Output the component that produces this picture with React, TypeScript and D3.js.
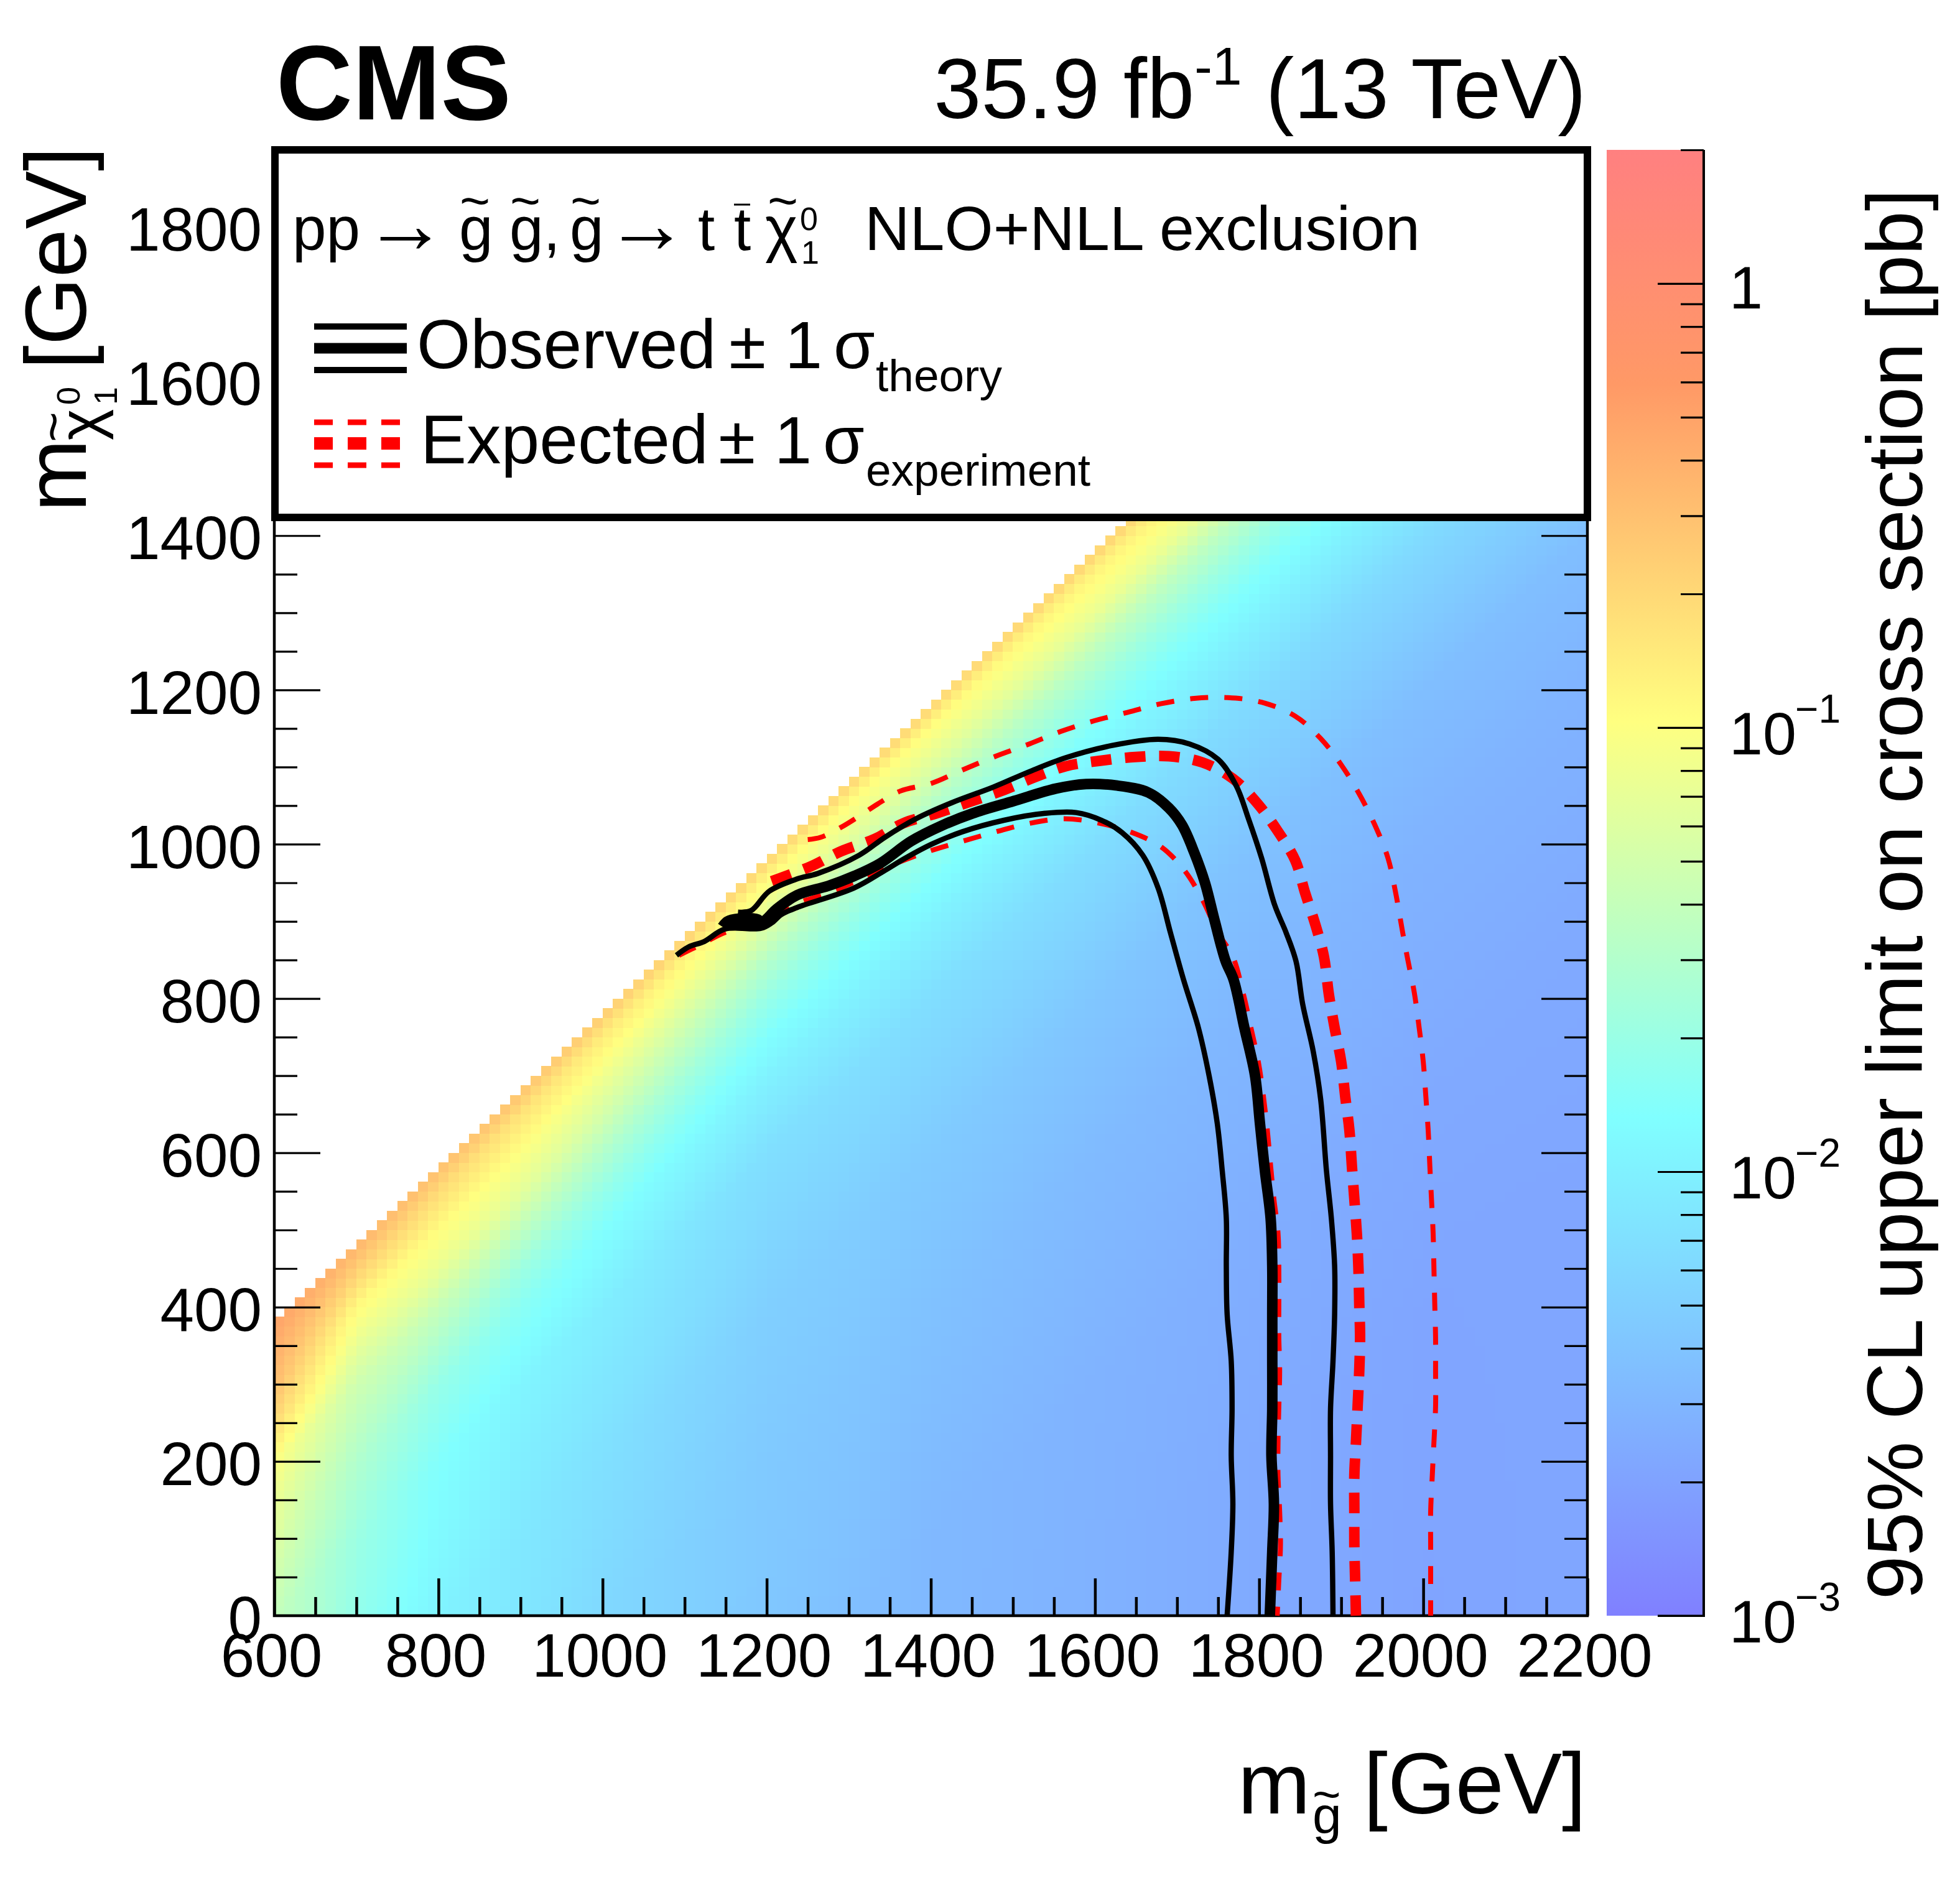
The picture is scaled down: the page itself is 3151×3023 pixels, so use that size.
import React, { useEffect, useRef } from 'react';
import * as d3 from 'd3';

type Pt = [number, number];

// limit map, log10(pb): columns are m_gluino, rows are m_gluino - m_chi
const mgNodes = [600, 700, 800, 900, 1000, 1200, 1400, 1600, 1800, 2000, 2200];
const gapNodes = [212.5, 230, 250, 300, 350, 400, 450, 500, 600, 800, 1000, 1300, 1600, 2000];
const limitRows = [
  [-0.30, -0.42, -0.48, -0.50, -0.52, -0.55, -0.55, -0.50, -0.50, -0.50, -0.50],
  [-0.33, -0.50, -0.58, -0.62, -0.70, -0.80, -0.80, -0.78, -0.78, -0.78, -0.78],
  [-0.38, -0.62, -0.72, -0.78, -0.85, -0.98, -0.98, -0.92, -0.90, -0.90, -0.90],
  [-0.50, -0.95, -0.97, -1.00, -1.08, -1.22, -1.22, -1.13, -1.13, -1.13, -1.13],
  [-0.72, -1.15, -1.13, -1.17, -1.28, -1.50, -1.50, -1.45, -1.45, -1.45, -1.45],
  [-1.00, -1.33, -1.38, -1.43, -1.52, -1.71, -1.71, -1.68, -1.68, -1.68, -1.68],
  [-1.12, -1.43, -1.56, -1.66, -1.72, -1.87, -1.87, -1.86, -1.86, -1.86, -1.86],
  [-1.22, -1.53, -1.72, -1.80, -1.87, -1.99, -1.99, -1.98, -1.98, -1.98, -1.98],
  [-1.40, -1.68, -1.86, -1.96, -2.03, -2.16, -2.17, -2.17, -2.20, -2.20, -2.20],
  [-1.40, -1.80, -1.98, -2.08, -2.15, -2.30, -2.34, -2.38, -2.42, -2.45, -2.45],
  [-1.40, -1.80, -2.00, -2.10, -2.22, -2.35, -2.42, -2.48, -2.52, -2.55, -2.55],
  [-1.40, -1.80, -2.00, -2.10, -2.22, -2.38, -2.50, -2.55, -2.60, -2.63, -2.63],
  [-1.40, -1.80, -2.00, -2.10, -2.22, -2.38, -2.50, -2.56, -2.63, -2.67, -2.66],
  [-1.40, -1.80, -2.00, -2.10, -2.22, -2.38, -2.50, -2.56, -2.63, -2.68, -2.66],
];

// ROOT palette of the z axis
const paletteStops = [0, 0.34, 0.61, 0.84, 1];
const paletteColors = ['#8080ff', '#80ffff', '#ffff80', '#ff9966', '#ff8080'];

const obsCentral: Pt[] = [
  [1146, 893], [1154, 901], [1190, 902], [1190, 896], [1155, 896], [1193, 898],
  [1212, 916], [1237, 934], [1275, 946], [1307, 959], [1338, 975], [1376, 1004], [1413, 1024],
  [1451, 1040], [1501, 1056], [1552, 1072], [1589, 1078], [1627, 1076], [1665, 1067], [1690, 1047], [1706, 1025],
  [1721, 989], [1734, 950], [1746, 900], [1759, 849], [1769, 824], [1782, 762], [1795, 700], [1801, 638],
  [1807, 577], [1814, 515], [1816, 453], [1816, 391], [1816, 330], [1816, 268], [1815, 207], [1818, 145],
  [1816, 83], [1813, 0],
];
const obsPlus: Pt[] = [
  [1165, 912], [1181, 914], [1203, 939], [1237, 955], [1262, 962], [1313, 986], [1344, 1009], [1382, 1033],
  [1426, 1054], [1476, 1074], [1520, 1094], [1564, 1112], [1621, 1128], [1677, 1136], [1715, 1130], [1750, 1110],
  [1772, 1076], [1787, 1033], [1803, 982], [1819, 921], [1833, 885], [1845, 848], [1853, 793], [1866, 731],
  [1875, 669], [1882, 577], [1888, 515], [1892, 453], [1892, 391], [1890, 330], [1887, 268], [1887, 207],
  [1887, 145], [1889, 83], [1890, 0],
];
const obsMinus: Pt[] = [
  [1090, 856], [1105, 867], [1124, 874], [1149, 890], [1193, 891], [1206, 898], [1218, 909], [1237, 918], [1306, 943],
  [1344, 966], [1369, 982],
  [1401, 1000], [1438, 1016], [1489, 1031], [1539, 1040], [1577, 1041], [1608, 1031], [1633, 1015], [1658, 986],
  [1677, 943], [1692, 885], [1708, 824], [1726, 762], [1739, 700], [1749, 638], [1755, 577], [1760, 515],
  [1760, 453], [1761, 391], [1766, 330], [1767, 268], [1766, 207], [1768, 145], [1766, 83], [1761, 0],
];
const expCentral: Pt[] = [
  [1206, 952], [1253, 971], [1291, 991], [1332, 1007], [1366, 1027], [1407, 1040], [1445, 1054], [1486, 1069],
  [1527, 1087], [1564, 1101], [1605, 1108], [1649, 1113], [1690, 1114], [1731, 1106], [1768, 1085], [1797, 1054],
  [1822, 1018], [1844, 979], [1856, 937], [1869, 894], [1879, 854], [1885, 805], [1892, 762], [1900, 718],
  [1905, 672], [1910, 629], [1913, 583], [1916, 540], [1919, 496], [1921, 450], [1922, 404], [1923, 361],
  [1922, 318], [1920, 271], [1918, 225], [1916, 182], [1916, 135], [1916, 92], [1917, 46], [1918, 0],
];
const expPlus: Pt[] = [
  [1250, 1006], [1266, 1009], [1294, 1024], [1322, 1043], [1335, 1052], [1363, 1069], [1401, 1079], [1438, 1096],
  [1479, 1114], [1520, 1130], [1558, 1146], [1599, 1160], [1640, 1171], [1680, 1182], [1721, 1189], [1762, 1190],
  [1803, 1184], [1844, 1166], [1875, 1137], [1900, 1103], [1922, 1065], [1941, 1025], [1957, 982], [1966, 939],
  [1975, 885], [1981, 851], [1989, 808], [1995, 762], [2000, 718], [2003, 675], [2006, 629], [2008, 583],
  [2010, 540], [2012, 496], [2013, 450], [2014, 404], [2015, 361], [2015, 318], [2015, 271], [2013, 225],
  [2011, 182], [2009, 135], [2009, 92], [2009, 46], [2009, 0],
];
const expMinus: Pt[] = [
  [1093, 856], [1118, 869], [1150, 886], [1190, 897], [1237, 923], [1281, 939], [1319, 957], [1357, 975],
  [1398, 991], [1439, 1004], [1479, 1016], [1520, 1027], [1561, 1033], [1602, 1028], [1643, 1016], [1680, 997],
  [1709, 966], [1731, 928], [1750, 885], [1768, 854], [1781, 805], [1790, 762], [1799, 718], [1805, 675],
  [1810, 629], [1814, 583], [1818, 540], [1823, 496], [1824, 450], [1824, 404], [1824, 361], [1825, 318],
  [1824, 271], [1823, 225], [1823, 182], [1825, 135], [1826, 92], [1824, 46], [1822, 0],
];

const xMajor = d3.range(600, 2201, 200);
const xMinor = d3.range(600, 2201, 50).filter((v) => v % 200 !== 0);
const yMajor = d3.range(0, 1801, 200);
const yMinor = d3.range(0, 1901, 50).filter((v) => v % 200 !== 0);
const zMajor = [0.001, 0.01, 0.1, 1];
const zMinor = [0.002, 0.003, 0.004, 0.005, 0.006, 0.007, 0.008, 0.009, 0.02, 0.03, 0.04, 0.05, 0.06, 0.07, 0.08, 0.09,
  0.2, 0.3, 0.4, 0.5, 0.6, 0.7, 0.8, 0.9, 2];
const zExponents = [-3, -2, -1];

const FONT = '"Liberation Sans", Arimo, Helvetica, Arial, sans-serif';
const left = 441, right = 2552, top = 241, bottom = 2598;

const x = d3.scaleLinear().domain([600, 2200]).range([left, right]);
const y = d3.scaleLinear().domain([0, 1900]).range([bottom, top]);
const z = d3.scaleLog().domain([0.001, 2]).range([bottom, top]);
const zBase = d3.scaleLinear().domain(paletteStops.map((s) => -3 + s * Math.log10(2000))).range(paletteColors as any)
  .interpolate(d3.interpolateRgb as any) as any;

const rowScales = limitRows.map((row) => d3.scaleLinear().domain(mgNodes).range(row).clamp(true));
// the table is coarser than the 12.5 GeV bins of the map, so each bin reads between its neighbouring nodes
const limitAt = (mg: number, gap: number) =>
  d3.scaleLinear().domain(gapNodes).range(rowScales.map((s) => s(mg))).clamp(true)(gap);

const BIN = 12.5;
const cells: { mg: number; chi: number; c: string }[] = [];
d3.range(600, 2200, BIN).forEach((mg) => {
  d3.range(0, 1900, BIN).forEach((chi) => {
    if (chi + BIN <= mg - 212.5) cells.push({ mg, chi, c: zBase(limitAt(mg + BIN / 2, mg - chi)) });
  });
});

const line = d3.line<Pt>().x((d) => x(d[0])).y((d) => y(d[1])).curve(d3.curveCatmullRom.alpha(0.5));

const Tx = ({ x, y, s, a, w, children }: any) => (
  <text x={x} y={y} fontSize={s} textAnchor={a ?? 'start'} fontWeight={w ?? 'normal'} fontFamily={FONT} fill="#000">{children}</text>
);

const App = () => {
  const axes = useRef<SVGGElement | null>(null);

  useEffect(() => {
    const g = d3.select(axes.current);
    g.selectAll('*').remove();
    const style = (sel: any, width: number) => {
      sel.select('.domain').remove();
      sel.selectAll('line').attr('stroke', '#000').attr('stroke-width', width);
      sel.selectAll('text').attr('font-family', FONT).attr('font-size', 98).attr('fill', '#000');
    };

    const xMaj = g.append('g').attr('transform', `translate(0,${bottom})`)
      .call(d3.axisBottom(x).tickValues(xMajor).tickSize(-60).tickFormat(d3.format('d')) as any);
    style(xMaj, 4.5);
    xMaj.selectAll('text').attr('y', 98).attr('dy', 0).attr('dx', -5);
    const xMin = g.append('g').attr('transform', `translate(0,${bottom})`)
      .call(d3.axisBottom(x).tickValues(xMinor).tickSize(-30).tickFormat(() => '') as any);
    style(xMin, 4.5);

    const yMaj = g.append('g').attr('transform', `translate(${left},0)`)
      .call(d3.axisLeft(y).tickValues(yMajor).tickSize(-74).tickFormat(d3.format('d')) as any);
    style(yMaj, 3.2);
    yMaj.selectAll('text').attr('x', -20).attr('dy', '0.385em');
    const yMin = g.append('g').attr('transform', `translate(${left},0)`)
      .call(d3.axisLeft(y).tickValues(yMinor).tickSize(-37).tickFormat(() => '') as any);
    style(yMin, 3.2);

    const rMaj = g.append('g').attr('transform', `translate(${right},0)`)
      .call(d3.axisRight(y).tickValues(yMajor).tickSize(-74).tickFormat(() => '') as any);
    style(rMaj, 3.2);
    const rMin = g.append('g').attr('transform', `translate(${right},0)`)
      .call(d3.axisRight(y).tickValues(yMinor).tickSize(-37).tickFormat(() => '') as any);
    style(rMin, 3.2);

    const zMaj = g.append('g').attr('transform', 'translate(2739,0)')
      .call(d3.axisRight(z).tickValues(zMajor).tickSize(-74).tickFormat(() => '') as any);
    style(zMaj, 3.2);
    const zMin = g.append('g').attr('transform', 'translate(2739,0)')
      .call(d3.axisRight(z).tickValues(zMinor).tickSize(-37).tickFormat(() => '') as any);
    style(zMin, 3.2);
  }, []);

  return (
    <svg width={3151} height={3023} style={{ position: 'absolute', left: 0, top: 0, background: '#fff' }}>
      <defs>
        <linearGradient id="zbar" x1="0" y1="1" x2="0" y2="0">
          {paletteStops.map((s, i) => <stop key={s} offset={s} stopColor={paletteColors[i]} />)}
        </linearGradient>
      </defs>

      <g shapeRendering="crispEdges">
        {cells.map((d) => (
          <rect key={`${d.mg}-${d.chi}`} x={x(d.mg)} y={y(d.chi + BIN)} width={x(d.mg + BIN) - x(d.mg) + 0.5}
            height={y(d.chi) - y(d.chi + BIN) + 0.5} fill={d.c} />
        ))}
      </g>

      <rect x={2583} y={top} width={156} height={bottom - top} fill="url(#zbar)" />
      <line x1={2739} x2={2739} y1={top} y2={bottom + 2} stroke="#000" strokeWidth={4} />
      <line x1={2665} x2={2741} y1={bottom} y2={bottom} stroke="#000" strokeWidth={3.2} />

      <g ref={axes} />
      <path d={`M${left},${top}V${bottom}H${right}V${top}`} fill="none" stroke="#000" strokeWidth={4.5} />

      <g fill="none" stroke="#ff0000">
        <path d={line(expPlus)!} strokeWidth={8} strokeDasharray="29 26" />
        <path d={line(expMinus)!} strokeWidth={8} strokeDasharray="29 26" />
        <path d={line(expCentral)!} strokeWidth={17} strokeDasharray="33 22" />
      </g>
      <g fill="none" stroke="#000" strokeLinejoin="round">
        <path d={line(obsPlus)!} strokeWidth={8.5} />
        <path d={line(obsMinus)!} strokeWidth={8.5} />
        <path d={line(obsCentral)!} strokeWidth={17} />
      </g>

      <rect x={442} y={241} width={2110} height={591} fill="#fff" stroke="#000" strokeWidth={12} />

      <Tx x={444} y={192} s={170} w="bold">CMS</Tx>
      <text x={2550} y={190} fontSize={137} textAnchor="end" fontFamily={FONT}>
        35.9 fb<tspan dy={-54} fontSize={86}>-1</tspan><tspan dy={54}> (13 TeV)</tspan>
      </text>

      {/* process line */}
      <Tx x={470} y={402} s={98}>pp</Tx>
      <Tx x={584} y={406} s={135}>→</Tx>
      <Tx x={738} y={402} s={98}>g</Tx><Tx x={739} y={352} s={84}>~</Tx>
      <Tx x={819} y={402} s={98}>g,</Tx><Tx x={820} y={352} s={84}>~</Tx>
      <Tx x={916} y={402} s={98}>g</Tx><Tx x={917} y={352} s={84}>~</Tx>
      <Tx x={972} y={406} s={135}>→</Tx>
      <Tx x={1122} y={402} s={98}>t</Tx>
      <Tx x={1180} y={402} s={98}>t</Tx><line x1={1180} x2={1206} y1={329} y2={329} stroke="#000" strokeWidth={3} />
      <Tx x={1230} y={402} s={100}>χ</Tx><Tx x={1234} y={352} s={84}>~</Tx>
      <Tx x={1286} y={370} s={52}>0</Tx><Tx x={1288} y={424} s={52}>1</Tx>
      <Tx x={1390} y={402} s={100.5}>NLO+NLL exclusion</Tx>

      {/* legend */}
      <g stroke="#000">
        <line x1={505} x2={654} y1={525} y2={525} strokeWidth={10} />
        <line x1={505} x2={654} y1={560} y2={560} strokeWidth={17} />
        <line x1={505} x2={654} y1={595} y2={595} strokeWidth={10} />
      </g>
      <g stroke="#ff0000" strokeDasharray="30 24">
        <line x1={505} x2={643} y1={679} y2={679} strokeWidth={9} />
        <line x1={505} x2={643} y1={713} y2={713} strokeWidth={20} />
        <line x1={505} x2={643} y1={748} y2={748} strokeWidth={9} />
      </g>
      <Tx x={670} y={592} s={111}>Observed</Tx>
      <Tx x={1172} y={592} s={108}>±</Tx>
      <Tx x={1262} y={592} s={108}>1</Tx>
      <Tx x={1340} y={592} s={108}>σ</Tx>
      <Tx x={1408} y={629} s={73}>theory</Tx>
      <Tx x={676} y={745} s={111}>Expected</Tx>
      <Tx x={1155} y={745} s={108}>±</Tx>
      <Tx x={1245} y={745} s={108}>1</Tx>
      <Tx x={1323} y={745} s={108}>σ</Tx>
      <Tx x={1392} y={781} s={73}>experiment</Tx>

      {/* axis titles */}
      <g transform="translate(138,823) rotate(-90)">
        <Tx x={0} y={0} s={140}>m</Tx>
        <Tx x={115} y={24} s={96}>χ</Tx>
        <Tx x={112} y={-24} s={84}>~</Tx>
        <Tx x={172} y={-10} s={52}>0</Tx>
        <Tx x={172} y={50} s={52}>1</Tx>
        <Tx x={587} y={0} s={140} a="end">[GeV]</Tx>
      </g>
      <Tx x={1990} y={2916} s={140}>m</Tx>
      <Tx x={2110} y={2948} s={84}>g</Tx>
      <Tx x={2110} y={2912} s={78}>~</Tx>
      <Tx x={2550} y={2916} s={140} a="end">[GeV]</Tx>

      {/* colour bar labels */}
      <Tx x={2780} y={z(1) + 40} s={97}>1</Tx>
      {zExponents.map((e) => (
        <g key={e}>
          <Tx x={2780} y={z(Math.pow(10, e)) + 43} s={97}>10</Tx>
          <Tx x={2886} y={z(Math.pow(10, e)) - 8} s={64}>{`\u2212${-e}`}</Tx>
        </g>
      ))}
      <g transform="translate(3090,304) rotate(-90)">
        <Tx x={0} y={0} s={127} a="end">95% CL upper limit on cross section [pb]</Tx>
      </g>
    </svg>
  );
};

export default App;
